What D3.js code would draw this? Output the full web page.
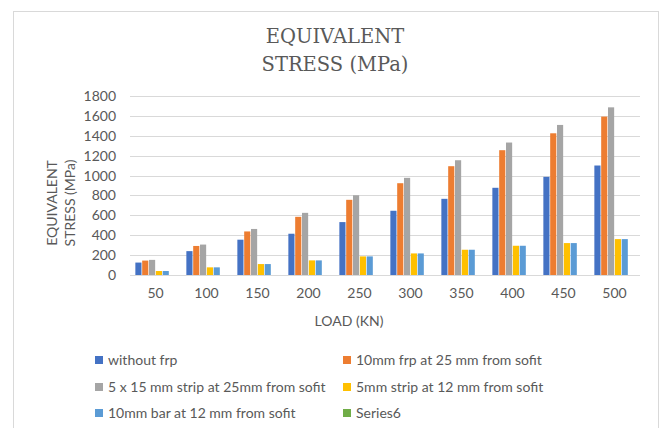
<!DOCTYPE html>
<html>
<head>
<meta charset="utf-8">
<script src="https://cdn.jsdelivr.net/npm/d3@7"></script>
<style>
  body { margin: 0; background: #fff; }
  text { font-family: Lato, "Liberation Sans", sans-serif; fill: #595959; }
  .title { font-family: "DejaVu Serif", "Liberation Serif", serif; }
</style>
</head>
<body>
<div id="chart"></div>
<script>
// Data
const loads = ["50", "100", "150", "200", "250", "300", "350", "400", "450", "500"];
const seriesNames = [
  "without frp",
  "10mm frp at 25 mm from sofit",
  "5 x 15 mm strip at 25mm from sofit",
  "5mm strip at 12 mm from sofit",
  "10mm bar at 12 mm from sofit",
  "Series6"
];
const withoutFrp = [125, 240, 355, 415, 532, 646, 766, 877, 987, 1101];
const frp10at25 = [145, 292, 438, 585, 756, 923, 1094, 1255, 1425, 1593];
const strip5x15 = [152, 306, 463, 625, 802, 977, 1154, 1332, 1509, 1686];
const strip5at12 = [40, 77, 110, 147, 187, 217, 254, 294, 321, 361];
const bar10at12 = [40, 77, 110, 147, 187, 217, 254, 294, 321, 361];
const series6 = [];
const seriesValues = [withoutFrp, frp10at25, strip5x15, strip5at12, bar10at12, series6];
const colors = ["#4472C4", "#ED7D31", "#A5A5A5", "#FFC000", "#5B9BD5", "#70AD47"];
const yTicks = [0, 200, 400, 600, 800, 1000, 1200, 1400, 1600, 1800];

// Config
const width = 662;
const height = 428;
const plot = { left: 130, right: 640, top: 96, bottom: 275 };

const svg = d3.select("#chart").append("svg")
  .attr("width", width)
  .attr("height", height);

// chart border
svg.append("rect")
  .attr("x", 13.5).attr("y", 11.5)
  .attr("width", 645).attr("height", 440)
  .attr("fill", "#fff")
  .attr("stroke", "#d9d9d9");

// Title
const title = svg.append("text")
  .attr("class", "title")
  .attr("text-anchor", "middle")
  .style("font-size", "19.5px");
title.append("tspan").attr("x", 335).attr("y", 43).text("EQUIVALENT");
title.append("tspan").attr("x", 335).attr("y", 71).text("STRESS (MPa)");

// Scales
const x0 = d3.scaleBand()
  .domain(loads)
  .range([plot.left, plot.right])
  .paddingInner(0.21)
  .paddingOuter(0.105);

const x1 = d3.scaleBand()
  .domain(d3.range(seriesNames.length))
  .range([0, x0.bandwidth()])
  .paddingInner(0.1);

const y = d3.scaleLinear()
  .domain([0, 1800])
  .range([plot.bottom, plot.top]);

// Gridlines
svg.append("g")
  .selectAll("line")
  .data(yTicks)
  .join("line")
  .attr("x1", plot.left).attr("x2", plot.right)
  .attr("y1", d => Math.round(y(d)) + 0.5)
  .attr("y2", d => Math.round(y(d)) + 0.5)
  .attr("stroke", "#d9d9d9")
  .attr("stroke-width", 1);

// Y axis labels
const yAxis = svg.append("g")
  .attr("transform", `translate(${plot.left}, 0)`)
  .call(d3.axisLeft(y).tickValues(yTicks).tickFormat(d3.format("d")).tickSize(0).tickPadding(14));
yAxis.select(".domain").remove();
yAxis.selectAll("text")
  .style("font-size", "14px")
  .attr("fill", "#595959")
  .style("font-family", "Lato, sans-serif");

// X axis labels
const xAxis = svg.append("g")
  .attr("transform", `translate(0, ${plot.bottom})`)
  .call(d3.axisBottom(x0).tickSize(0).tickPadding(13));
xAxis.select(".domain").remove();
xAxis.selectAll("text")
  .style("font-size", "14px")
  .attr("fill", "#595959")
  .style("font-family", "Lato, sans-serif");

// Bars
const groups = svg.append("g")
  .selectAll("g")
  .data(loads)
  .join("g")
  .attr("transform", d => `translate(${x0(d)}, 0)`);

groups.selectAll("rect")
  .data((d, i) => seriesValues.map((vals, s) => ({ s, v: vals[i] })).filter(e => e.v !== undefined))
  .join("rect")
  .attr("x", d => x1(d.s))
  .attr("width", x1.bandwidth())
  .attr("y", d => y(d.v))
  .attr("height", d => y(0) - y(d.v))
  .attr("fill", d => colors[d.s]);

// Axis titles
const yTitle = svg.append("text")
  .attr("transform", "translate(0, 203) rotate(-90)")
  .attr("text-anchor", "middle")
  .style("font-size", "14px");
yTitle.append("tspan").attr("x", 0).attr("y", 57).text("EQUIVALENT");
yTitle.append("tspan").attr("x", 0).attr("y", 75).text("STRESS (MPa)");

svg.append("text")
  .attr("x", 349).attr("y", 326)
  .attr("text-anchor", "middle")
  .style("font-size", "14px")
  .text("LOAD (KN)");

// Legend
const legendPos = [
  [95, 360], [343, 360],
  [95, 387], [343, 387],
  [95, 413], [343, 413]
];
const legend = svg.append("g")
  .selectAll("g")
  .data(seriesNames)
  .join("g")
  .attr("transform", (d, i) => `translate(${legendPos[i][0]}, ${legendPos[i][1]})`);

legend.append("rect")
  .attr("x", 0).attr("y", -4)
  .attr("width", 8).attr("height", 8)
  .attr("fill", (d, i) => colors[i]);

legend.append("text")
  .attr("x", 13).attr("y", 5)
  .style("font-size", "14px")
  .text(d => d);
</script>
</body>
</html>
